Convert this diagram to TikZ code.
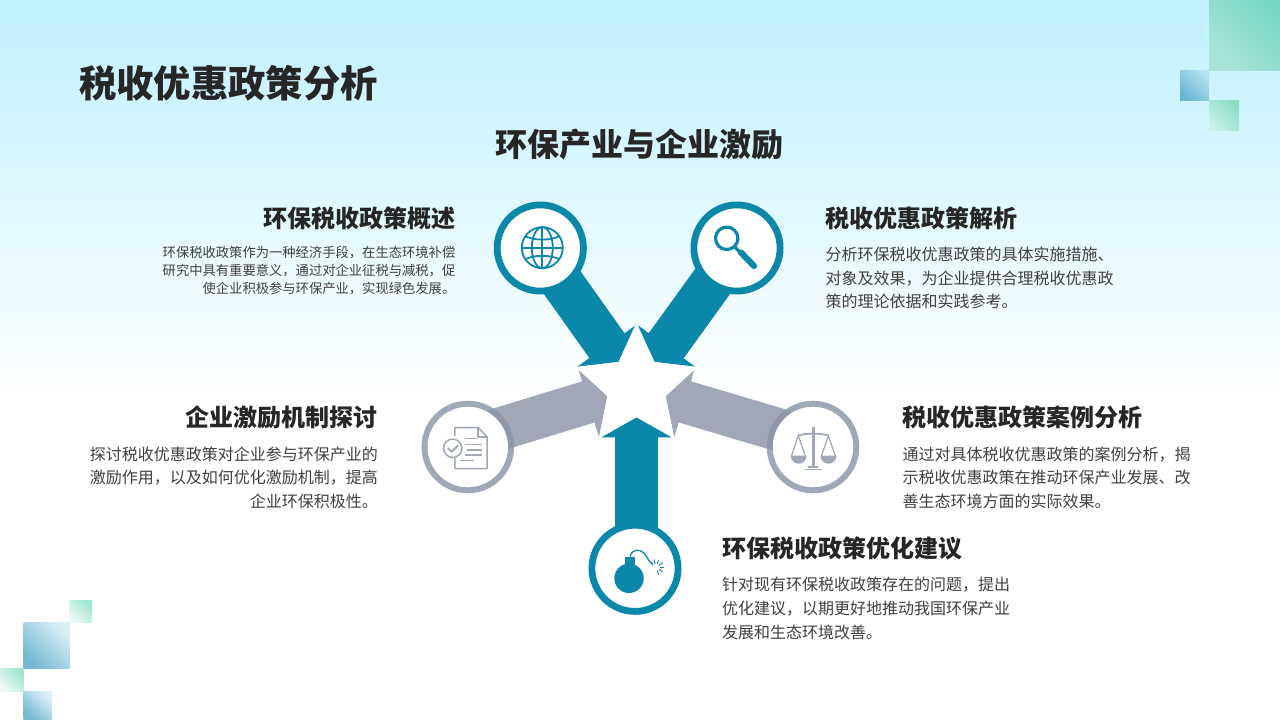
\documentclass[tikz,border=0pt]{standalone}
\usepackage{fontspec}
\setmainfont{Noto Sans CJK SC}
\usetikzlibrary{arrows.meta,shapes.geometric}
\definecolor{tealc}{HTML}{0B87A9}
\definecolor{grayc}{HTML}{A0A8B8}
\definecolor{grayring}{HTML}{8B95A8}
\definecolor{ink}{HTML}{262626}
\definecolor{bodyc}{HTML}{404040}
\pgfdeclarelayer{under}
\pgfsetlayers{under,main}
\tikzset{
  tealcircle/.style={circle,draw=tealc,line width=6.8pt,fill=white,minimum size=86.2pt,inner sep=0pt,outer sep=0pt},
  graycircle/.style={circle,fill=white,minimum size=81pt,inner sep=0pt,outer sep=0pt},
  grayringline/.style={draw=grayring,draw opacity=.82,line width=6pt},
  tealarrow/.style={line width=43pt,draw=tealc,-{Triangle[length=20pt,width=73pt,color=tealc]}},
  grayarrow/.style={line width=43pt,draw=grayc,-{Triangle[length=20pt,width=73pt,color=grayc]}},
  starnode/.style={star,star points=5,star point ratio=2.1,minimum size=128.4pt,inner sep=0pt,outer sep=0pt,fill=white},
  maintitle/.style={text=ink,font=\fontsize{37.3}{44}\selectfont\bfseries,inner sep=0pt},
  subtitle/.style={text=ink,font=\fontsize{32}{38}\selectfont\bfseries,inner sep=0pt},
  head/.style={text=ink,font=\fontsize{24}{29}\selectfont\bfseries,inner sep=0pt},
  bodybig/.style={text=bodyc,font=\fontsize{16}{23.6}\selectfont,inner sep=0pt},
  bodysmall/.style={text=bodyc,font=\fontsize{13.3}{18}\selectfont,inner sep=0pt},
  sq/.style={shading angle=-45,draw=none},
  tealicon/.style={draw=tealc,line width=1.8pt},
  grayicon/.style={draw=grayc,line width=1.5pt},
}
\begin{document}
\begin{tikzpicture}[x=1pt,y=-1pt]
\useasboundingbox (0,0) rectangle (1280,720);
\begin{pgfonlayer}{under}
\fill[white] (0,0) rectangle (1280,720);
\shade[top color={rgb,255:red,191;green,240;blue,254},bottom color=white] (0,0) rectangle (1280,400);
% corner squares
\shade[top color={rgb,255:red,120;green,215;blue,195},bottom color={rgb,255:red,170;green,228;blue,215},sq] (1209,0) rectangle (1280,70);
\shade[top color={rgb,255:red,182;green,225;blue,240},bottom color={rgb,255:red,105;green,182;blue,212},sq] (1180,70) rectangle (1209,100);
\shade[top color={rgb,255:red,140;green,220;blue,200},bottom color={rgb,255:red,200;green,240;blue,232},sq] (1209,100) rectangle (1239,130);
\shade[top color={rgb,255:red,160;green,230;blue,210},bottom color={rgb,255:red,235;green,248;blue,245},sq] (69.5,600) rectangle (92,622);
\shade[top color={rgb,255:red,218;green,238;blue,245},bottom color={rgb,255:red,115;green,185;blue,212},sq] (23.5,622) rectangle (69.5,668.5);
\shade[top color={rgb,255:red,160;green,230;blue,210},bottom color={rgb,255:red,236;green,249;blue,246},sq] (0,668.5) rectangle (23.5,691);
\shade[top color={rgb,255:red,222;green,240;blue,247},bottom color={rgb,255:red,115;green,185;blue,212},sq] (23.5,691) rectangle (52,720);
\end{pgfonlayer}

% texts
\node[maintitle,anchor=west] (title) at (79,83) {税收优惠政策分析};
\node[subtitle] (sub) at (639.5,144) {环保产业与企业激励};

\node[head,anchor=east] (h1) at (455.5,218) {环保税收政策概述};
\node[bodysmall,anchor=east,align=right] (b1) at (455.5,270.5) {环保税收政策作为一种经济手段，在生态环境补偿\\研究中具有重要意义，通过对企业征税与减税，促\\使企业积极参与环保产业，实现绿色发展。};
\node[head,anchor=west] (h2) at (825.5,218) {税收优惠政策解析};
\node[bodybig,anchor=west,align=left] (b2) at (825.5,278) {分析环保税收优惠政策的具体实施措施、\\对象及效果，为企业提供合理税收优惠政\\策的理论依据和实践参考。};
\node[head,anchor=east] (h3) at (377.5,417) {企业激励机制探讨};
\node[bodybig,anchor=east,align=right] (b3) at (378,477.5) {探讨税收优惠政策对企业参与环保产业的\\激励作用，以及如何优化激励机制，提高\\企业环保积极性。};
\node[head,anchor=west] (h4) at (902.5,417) {税收优惠政策案例分析};
\node[bodybig,anchor=west,align=left] (b4) at (902.5,477.5) {通过对具体税收优惠政策的案例分析，揭\\示税收优惠政策在推动环保产业发展、改\\善生态环境方面的实际效果。};
\node[head,anchor=west] (h5) at (722,548) {环保税收政策优化建议};
\node[bodybig,anchor=west,align=left] (b5) at (722,608.5) {针对现有环保税收政策存在的问题，提出\\优化建议，以期更好地推动我国环保产业\\发展和生态环境改善。};

% hub and circles
\node[starnode] (hub) at (636.5,386.7) {};
\node[tealcircle] (c1) at (540.3,248) {};
\node[tealcircle] (c2) at (737,248) {};
\node[graycircle] (c3) at (467.8,447) {};
\node[graycircle] (c4) at (813,447) {};
\node[tealcircle] (c5) at (635,568.3) {};
\draw[grayringline] (c3) circle[radius=43.3pt];
\draw[grayringline] (c4) circle[radius=43.3pt];

% connector free ends, hidden beneath the circles
\coordinate (e1) at (556.6,274.8);
\coordinate (e2) at (716.7,275.8);
\coordinate (e3) at (487.8,432.6);
\coordinate (e4) at (784.9,431.6);
\coordinate (e5) at (636.5,540);

\begin{pgfonlayer}{under}
\draw[tealarrow] (e1) -- (hub.inner point 1);
\draw[tealarrow] (e2) -- (hub.inner point 5);
\draw[grayarrow] (e3) -- (hub.inner point 2);
\draw[grayarrow] (e4) -- (hub.inner point 4);
\draw[tealarrow] (e5) -- (hub.inner point 3);
\end{pgfonlayer}

% globe icon
\begin{scope}[shift={(542.3,247.7)}]
\draw[tealicon] (0,0) circle[radius=20.5pt];
\draw[tealicon] (0,0) ellipse[x radius=10.5pt,y radius=20.5pt];
\draw[tealicon] (0,-20.5) -- (0,20.5);
\draw[tealicon] (-20.5,0) -- (20.5,0);
\draw[tealicon] (-17,-11.5) .. controls (-8,-7) and (8,-7) .. (17,-11.5);
\draw[tealicon] (-17,11.5) .. controls (-8,7) and (8,7) .. (17,11.5);
\end{scope}

% magnifier icon
\draw[draw=tealc,line width=3.2pt] (726.7,238.3) circle[radius=11.2pt];
\draw[draw=tealc,line width=3.4pt] (735,247) -- (741,253.5);
\draw[draw=tealc,line width=6.2pt,line cap=round] (741,252.5) -- (754,266);

% document icon
\draw[grayicon,line join=round] (454.8,436) -- (454.8,427.5) -- (478,427.5) -- (487.2,437) -- (487.2,468.5) -- (454.8,468.5) -- (454.8,458);
\draw[grayicon,line join=round] (478,427.5) -- (478,437) -- (487.2,437);
\draw[grayicon,fill=white] (452.7,448.3) circle[radius=9.2pt];
\draw[draw=grayc,line width=2pt,line join=round] (447.8,448) -- (451.5,451.8) -- (458,445.5);
\draw[grayicon] (465,438.7) -- (476.5,438.7);
\draw[grayicon] (465,444.5) -- (482,444.5);
\draw[grayicon] (466.5,450) -- (482,450);
\draw[grayicon] (465,455) -- (482,455);
\draw[grayicon] (460,460.7) -- (473.5,460.7);

% scales icon
\draw[draw=grayc,line width=2.4pt] (813.3,427.3) -- (813.3,467);
\draw[draw=grayc,line width=1.8pt] (798.3,435.5) .. controls (805,433) and (821,433) .. (828.3,435.5);
\draw[draw=grayc,line width=1.2pt] (791.5,456) -- (798.3,435.5) -- (805.3,456);
\draw[draw=grayc,line width=1.2pt] (821.5,456) -- (828.3,435.5) -- (835.3,456);
\fill[grayc] (790.7,455.7) -- (806.7,455.7) arc[start angle=0,end angle=-180,radius=8pt] -- cycle;
\fill[grayc] (820.5,455.7) -- (836.5,455.7) arc[start angle=0,end angle=-180,radius=8pt] -- cycle;
\fill[grayc] (808.3,465.7) rectangle (818.3,467.5);
\fill[grayc] (805,468.5) rectangle (821.7,470.2);

% bomb icon
\fill[tealc] (629,578.3) circle[radius=14.7pt];
\fill[tealc] (624.8,556.5) -- (634.5,556.5) -- (634.5,566) -- (624.8,566) -- cycle;
\draw[draw=tealc,line width=1.3pt] (630,556.5) .. controls (632,549) and (639,548.5) .. (644,553) .. controls (648,557) and (648,562) .. (653,564);
\foreach \a in {-70,-35,0,35,70,105,140}{
  \draw[draw=tealc,line width=.9pt] (656,567.3) ++({\a}:3.5pt) -- ++({\a}:4.5pt);
}
\end{tikzpicture}
\end{document}
